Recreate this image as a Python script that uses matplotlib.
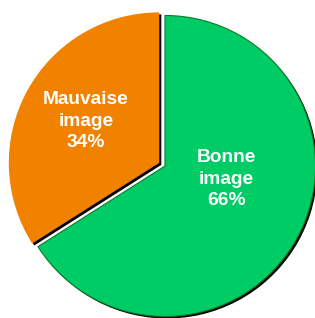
import matplotlib.pyplot as plt

labels = ['Bonne\nimage', 'Mauvaise\nimage']
values = [66, 34]
colors = ['#00CC66', '#F08200']
explode = [0, 6.5]  # pie offsets in data units (pixels here)

fig = plt.figure(figsize=(3.15, 3.18), dpi=100)
ax = fig.add_axes([0, 0, 1, 1])

cx, cy, r = 165, 152, 150.5

# shadow
ax.pie(values, colors=['black', 'black'], explode=explode, startangle=90,
       counterclock=False, radius=r, center=(cx + 2, cy - 2), frame=True,
       wedgeprops=dict(linewidth=0))
# slices
wedges, _ = ax.pie(values, colors=colors, explode=explode, startangle=90,
                   counterclock=False, radius=r, center=(cx, cy), frame=True,
                   wedgeprops=dict(linewidth=0))
wedges[0].set_edgecolor('#0a7a2a')
wedges[0].set_linewidth(0.8)

ax.set_xlim(0, 315)
ax.set_ylim(0, 318)
ax.set_aspect('equal')
ax.axis('off')

text_pos = [(226, 139), (86, 197)]
for lab, v, (tx, ty) in zip(labels, values, text_pos):
    ax.text(tx, ty, f'{lab}\n{v}%', ha='center', va='center', color='white',
            fontsize=13.8, fontweight='bold', family='Liberation Sans',
            linespacing=1.35, multialignment='center')

fig.savefig('out.png', dpi=100)
